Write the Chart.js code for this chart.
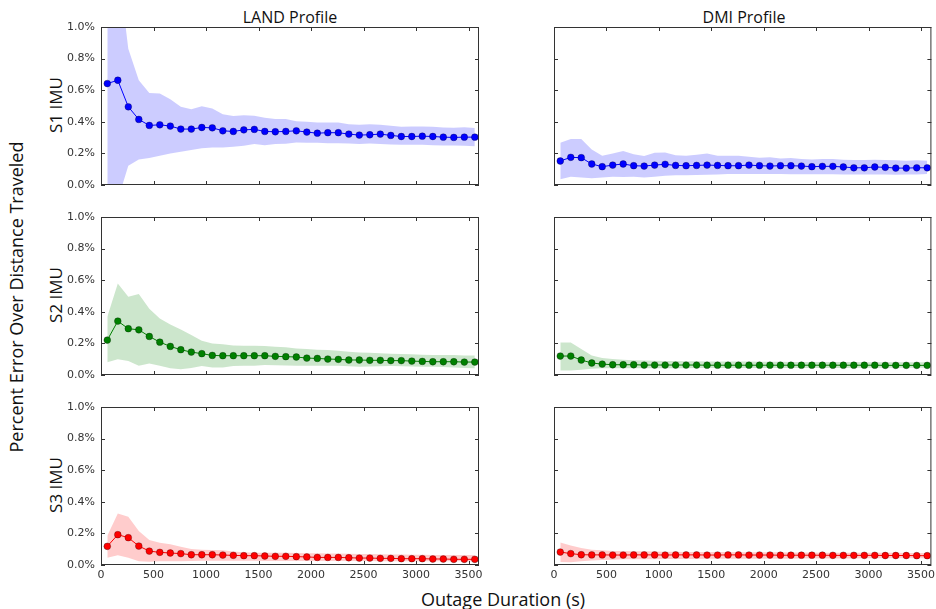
<!DOCTYPE html>
<html>
<head>
<meta charset="utf-8">
<script src="https://cdn.jsdelivr.net/npm/chart.js@4/dist/chart.umd.min.js"></script>
<style>
  body { margin: 0; background: #fff; }
  #wrap { position: relative; width: 936px; height: 609px; overflow: hidden; }
  canvas { position: absolute; }
  .lbl { position: absolute; font-family: "Open Sans", sans-serif; color: #111; white-space: nowrap; line-height: 1; transform: translate(-50%, -50%); }
  .rot { transform: translate(-50%, -50%) rotate(-90deg); }
</style>
</head>
<body>
<div id="wrap">
  <div class="lbl" style="left:290px; top:17px; font-size:16px;">LAND Profile</div>
  <div class="lbl" style="left:744px; top:17px; font-size:16px;">DMI Profile</div>
  <div class="lbl rot" style="left:55px; top:105px; font-size:17px;">S1 IMU</div>
  <div class="lbl rot" style="left:55px; top:295px; font-size:17px;">S2 IMU</div>
  <div class="lbl rot" style="left:55px; top:485px; font-size:17px;">S3 IMU</div>
  <div class="lbl rot" style="left:16px; top:297px; font-size:18px;">Percent Error Over Distance Traveled</div>
  <div class="lbl" style="left:503px; top:599px; font-size:18px;">Outage Duration (s)</div>
</div>
<script>
// outage durations (s)
const durations = [60, 160, 260, 360, 460, 560, 660, 760, 860, 960, 1060, 1160, 1260, 1360, 1460, 1560, 1660, 1760,
  1860, 1960, 2060, 2160, 2260, 2360, 2460, 2560, 2660, 2760, 2860, 2960, 3060, 3160, 3260, 3360, 3460, 3560];

const xTicks = [0, 500, 1000, 1500, 2000, 2500, 3000, 3500];
const yTicks = [0, 0.2, 0.4, 0.6, 0.8, 1.0];

// S1 IMU
const s1LandMean = [0.642, 0.663, 0.495, 0.415, 0.377, 0.381, 0.373, 0.354, 0.354, 0.364, 0.362, 0.343, 0.339, 0.349, 0.352, 0.339, 0.337, 0.339,
  0.343, 0.335, 0.328, 0.331, 0.331, 0.322, 0.316, 0.318, 0.322, 0.314, 0.307, 0.307, 0.309, 0.307, 0.303, 0.301, 0.303, 0.303];
const s1LandUpper = [1.40, 1.41, 0.863, 0.663, 0.583, 0.579, 0.543, 0.495, 0.48, 0.499, 0.484, 0.448, 0.436, 0.442, 0.438, 0.425, 0.417, 0.417,
  0.404, 0.40, 0.396, 0.396, 0.396, 0.385, 0.381, 0.385, 0.381, 0.375, 0.368, 0.37, 0.37, 0.368, 0.364, 0.362, 0.366, 0.36];
const s1LandLower = [-0.15, -0.095, 0.122, 0.162, 0.171, 0.185, 0.2, 0.211, 0.221, 0.232, 0.238, 0.238, 0.242, 0.248, 0.259, 0.251, 0.259, 0.261,
  0.269, 0.267, 0.267, 0.265, 0.265, 0.263, 0.26, 0.262, 0.26, 0.257, 0.255, 0.255, 0.254, 0.252, 0.25, 0.25, 0.248, 0.246];

const s1DmiMean = [0.152, 0.175, 0.173, 0.133, 0.116, 0.126, 0.133, 0.122, 0.12, 0.126, 0.131, 0.124, 0.122, 0.124, 0.126, 0.124, 0.122, 0.122,
  0.126, 0.122, 0.12, 0.122, 0.122, 0.12, 0.116, 0.118, 0.118, 0.114, 0.109, 0.109, 0.114, 0.112, 0.107, 0.107, 0.109, 0.109];
const s1DmiUpper = [0.267, 0.291, 0.291, 0.225, 0.185, 0.2, 0.215, 0.194, 0.183, 0.204, 0.206, 0.189, 0.185, 0.192, 0.2, 0.185, 0.185, 0.185,
  0.179, 0.173, 0.175, 0.168, 0.171, 0.164, 0.162, 0.164, 0.164, 0.16, 0.158, 0.158, 0.16, 0.158, 0.156, 0.154, 0.156, 0.154];
const s1DmiLower = [0.036, 0.053, 0.048, 0.042, 0.048, 0.053, 0.05, 0.053, 0.048, 0.053, 0.059, 0.061, 0.061, 0.063, 0.065, 0.067, 0.069, 0.069,
  0.069, 0.069, 0.069, 0.069, 0.068, 0.068, 0.068, 0.068, 0.068, 0.067, 0.067, 0.066, 0.066, 0.066, 0.065, 0.066, 0.067, 0.069];

// S2 IMU
const s2LandMean = [0.221, 0.341, 0.293, 0.286, 0.244, 0.208, 0.181, 0.16, 0.145, 0.135, 0.124, 0.122, 0.122, 0.122, 0.122, 0.122, 0.118, 0.116,
  0.114, 0.107, 0.105, 0.101, 0.099, 0.095, 0.095, 0.093, 0.093, 0.091, 0.091, 0.088, 0.086, 0.084, 0.084, 0.084, 0.082, 0.082];
const s2LandUpper = [0.368, 0.579, 0.495, 0.512, 0.419, 0.358, 0.32, 0.288, 0.253, 0.217, 0.2, 0.194, 0.187, 0.185, 0.185, 0.183, 0.179, 0.175,
  0.168, 0.164, 0.16, 0.158, 0.154, 0.147, 0.143, 0.141, 0.137, 0.135, 0.133, 0.131, 0.128, 0.126, 0.126, 0.126, 0.124, 0.124];
const s2LandLower = [0.08, 0.099, 0.088, 0.059, 0.072, 0.059, 0.042, 0.036, 0.044, 0.057, 0.048, 0.048, 0.057, 0.059, 0.059, 0.063, 0.061, 0.06,
  0.059, 0.059, 0.058, 0.059, 0.059, 0.056, 0.053, 0.054, 0.055, 0.057, 0.055, 0.054, 0.053, 0.053, 0.051, 0.048, 0.045, 0.042];

const s2DmiMean = [0.12, 0.12, 0.095, 0.076, 0.069, 0.065, 0.065, 0.065, 0.063, 0.063, 0.063, 0.063, 0.063, 0.063, 0.062, 0.062, 0.062, 0.062,
  0.062, 0.062, 0.062, 0.062, 0.062, 0.062, 0.062, 0.062, 0.062, 0.062, 0.062, 0.062, 0.062, 0.061, 0.061, 0.061, 0.061, 0.061];
const s2DmiUpper = [0.206, 0.206, 0.164, 0.124, 0.107, 0.101, 0.097, 0.093, 0.091, 0.09, 0.089, 0.088, 0.087, 0.087, 0.086, 0.086, 0.085, 0.085,
  0.085, 0.084, 0.084, 0.084, 0.083, 0.083, 0.083, 0.082, 0.082, 0.082, 0.082, 0.081, 0.081, 0.081, 0.081, 0.08, 0.08, 0.08];
const s2DmiLower = [0.029, 0.029, 0.034, 0.04, 0.042, 0.042, 0.042, 0.042, 0.043, 0.043, 0.043, 0.043, 0.043, 0.044, 0.044, 0.044, 0.044, 0.044,
  0.044, 0.044, 0.045, 0.045, 0.045, 0.045, 0.045, 0.045, 0.045, 0.045, 0.046, 0.046, 0.046, 0.046, 0.046, 0.046, 0.046, 0.046];

// S3 IMU
const s3LandMean = [0.118, 0.192, 0.173, 0.12, 0.088, 0.08, 0.076, 0.072, 0.065, 0.065, 0.065, 0.063, 0.061, 0.059, 0.059, 0.057, 0.055, 0.055,
  0.053, 0.051, 0.048, 0.048, 0.048, 0.046, 0.044, 0.044, 0.042, 0.042, 0.04, 0.04, 0.04, 0.038, 0.038, 0.036, 0.036, 0.036];
const s3LandUpper = [0.185, 0.326, 0.305, 0.215, 0.158, 0.141, 0.131, 0.116, 0.101, 0.097, 0.095, 0.093, 0.086, 0.08, 0.078, 0.078, 0.077, 0.077,
  0.076, 0.074, 0.074, 0.073, 0.072, 0.071, 0.069, 0.069, 0.068, 0.067, 0.066, 0.065, 0.065, 0.064, 0.064, 0.064, 0.063, 0.063];
const s3LandLower = [0.046, 0.061, 0.046, 0.023, 0.021, 0.023, 0.023, 0.024, 0.025, 0.027, 0.027, 0.027, 0.027, 0.027, 0.027, 0.026, 0.026, 0.026,
  0.025, 0.025, 0.025, 0.025, 0.025, 0.025, 0.025, 0.025, 0.024, 0.024, 0.024, 0.024, 0.024, 0.024, 0.023, 0.023, 0.023, 0.023];

const s3DmiMean = [0.082, 0.072, 0.065, 0.064, 0.064, 0.063, 0.063, 0.064, 0.064, 0.064, 0.063, 0.064, 0.064, 0.064, 0.063, 0.063, 0.064, 0.064,
  0.063, 0.063, 0.063, 0.062, 0.062, 0.062, 0.062, 0.062, 0.061, 0.061, 0.061, 0.061, 0.061, 0.06, 0.06, 0.06, 0.059, 0.059];
const s3DmiUpper = [0.143, 0.124, 0.107, 0.097, 0.093, 0.088, 0.088, 0.087, 0.087, 0.086, 0.084, 0.084, 0.083, 0.083, 0.082, 0.082, 0.082, 0.081,
  0.081, 0.08, 0.08, 0.08, 0.079, 0.079, 0.079, 0.078, 0.078, 0.078, 0.078, 0.077, 0.077, 0.077, 0.077, 0.076, 0.076, 0.076];
const s3DmiLower = [0.019, 0.017, 0.023, 0.029, 0.032, 0.034, 0.036, 0.036, 0.037, 0.037, 0.038, 0.038, 0.038, 0.038, 0.039, 0.039, 0.039, 0.039,
  0.04, 0.04, 0.04, 0.04, 0.04, 0.041, 0.041, 0.041, 0.041, 0.041, 0.041, 0.042, 0.042, 0.042, 0.042, 0.042, 0.042, 0.042];

const colours = [
  { line: "#0000ff", band: "rgba(0, 0, 255, 0.2)" },
  { line: "#008000", band: "rgba(0, 128, 0, 0.2)" },
  { line: "#ff0000", band: "rgba(255, 0, 0, 0.2)" },
];

const panels = [
  { row: 0, col: 0, mean: s1LandMean, upper: s1LandUpper, lower: s1LandLower },
  { row: 0, col: 1, mean: s1DmiMean, upper: s1DmiUpper, lower: s1DmiLower },
  { row: 1, col: 0, mean: s2LandMean, upper: s2LandUpper, lower: s2LandLower },
  { row: 1, col: 1, mean: s2DmiMean, upper: s2DmiUpper, lower: s2DmiLower },
  { row: 2, col: 0, mean: s3LandMean, upper: s3LandUpper, lower: s3LandLower },
  { row: 2, col: 1, mean: s3DmiMean, upper: s3DmiUpper, lower: s3DmiLower },
];

// plot boxes in page pixels
const colBox = [{ left: 101, right: 479, axisW: 61, padR: 7 }, { left: 554, right: 933, axisW: 10, padR: 3 }];
const rowTop = [27, 217, 407];
const plotH = 158;

// box round the plot and inward ticks on all four sides
const framePlugin = {
  id: "frame",
  afterDraw(chart) {
    const { ctx, chartArea: a } = chart;
    const xs = chart.scales.x;
    const ys = chart.scales.y;
    ctx.save();
    ctx.strokeStyle = "#333";
    ctx.lineWidth = 1;
    ctx.beginPath();
    xTicks.forEach((v) => {
      const px = Math.round(xs.getPixelForValue(v)) + 0.5;
      ctx.moveTo(px, a.bottom);
      ctx.lineTo(px, a.bottom - 4);
      ctx.moveTo(px, a.top);
      ctx.lineTo(px, a.top + 4);
    });
    yTicks.forEach((v) => {
      const py = Math.round(ys.getPixelForValue(v)) + 0.5;
      ctx.moveTo(a.left, py);
      ctx.lineTo(a.left + 4, py);
      ctx.moveTo(a.right, py);
      ctx.lineTo(a.right - 4, py);
    });
    ctx.stroke();
    ctx.strokeRect(a.left + 0.5, a.top + 0.5, a.right - a.left - 1, a.bottom - a.top - 1);
    ctx.restore();
  },
};

// keep the axes from pushing the plot area around
function noScalePadding(s) {
  s.paddingTop = 0;
  s.paddingBottom = 0;
  s.paddingLeft = 0;
  s.paddingRight = 0;
}

const wrap = document.getElementById("wrap");

panels.forEach((p) => {
  const c = colBox[p.col];
  const bottomRow = p.row === 2;
  const padT = 8;
  const padB = bottomRow ? 2 : 8;
  const xAxisH = bottomRow ? 20 : 0;
  const w = c.axisW + (c.right - c.left) + c.padR;
  const h = padT + plotH + xAxisH + padB;

  const canvas = document.createElement("canvas");
  canvas.width = w;
  canvas.height = h;
  canvas.style.left = c.left - c.axisW + "px";
  canvas.style.top = rowTop[p.row] - padT + "px";
  wrap.appendChild(canvas);

  const col = colours[p.row];
  const pts = (arr) => durations.map((d, i) => ({ x: d, y: arr[i] }));

  new Chart(canvas, {
    type: "line",
    data: {
      datasets: [
        { data: pts(p.upper), borderWidth: 0, pointRadius: 0, backgroundColor: col.band, fill: "+1", tension: 0 },
        { data: pts(p.lower), borderWidth: 0, pointRadius: 0, backgroundColor: col.band, fill: false, tension: 0 },
        {
          data: pts(p.mean),
          borderColor: col.line,
          borderWidth: 1,
          backgroundColor: col.line,
          pointBackgroundColor: col.line,
          pointBorderColor: "rgba(0, 0, 0, 0.55)",
          pointBorderWidth: 0.6,
          pointRadius: 3.4,
          fill: false,
          tension: 0,
        },
      ],
    },
    options: {
      responsive: false,
      devicePixelRatio: 1,
      animation: false,
      layout: { padding: { left: 0, right: c.padR, top: padT, bottom: padB } },
      plugins: { legend: { display: false }, tooltip: { enabled: false } },
      scales: {
        x: {
          type: "linear",
          min: 0,
          max: 3600,
          grid: { display: false, drawTicks: false },
          border: { display: false },
          afterBuildTicks: (s) => { s.ticks = xTicks.map((v) => ({ value: v })); },
          afterFit: (s) => { s.height = xAxisH; noScalePadding(s); },
          ticks: {
            display: bottomRow,
            padding: 4,
            color: "#333",
            font: { family: "DejaVu Sans", size: 11 },
            maxRotation: 0,
            callback: (v) => String(v),
          },
        },
        y: {
          type: "linear",
          min: 0,
          max: 1.0,
          grid: { display: false, drawTicks: false },
          border: { display: false },
          afterBuildTicks: (s) => { s.ticks = yTicks.map((v) => ({ value: v })); },
          afterFit: (s) => { s.width = c.axisW; noScalePadding(s); },
          ticks: {
            display: p.col === 0,
            padding: 6,
            color: "#333",
            font: { family: "DejaVu Sans", size: 11 },
            callback: (v) => v.toFixed(1) + "%",
          },
        },
      },
    },
    plugins: [framePlugin],
  });
});
</script>
</body>
</html>
